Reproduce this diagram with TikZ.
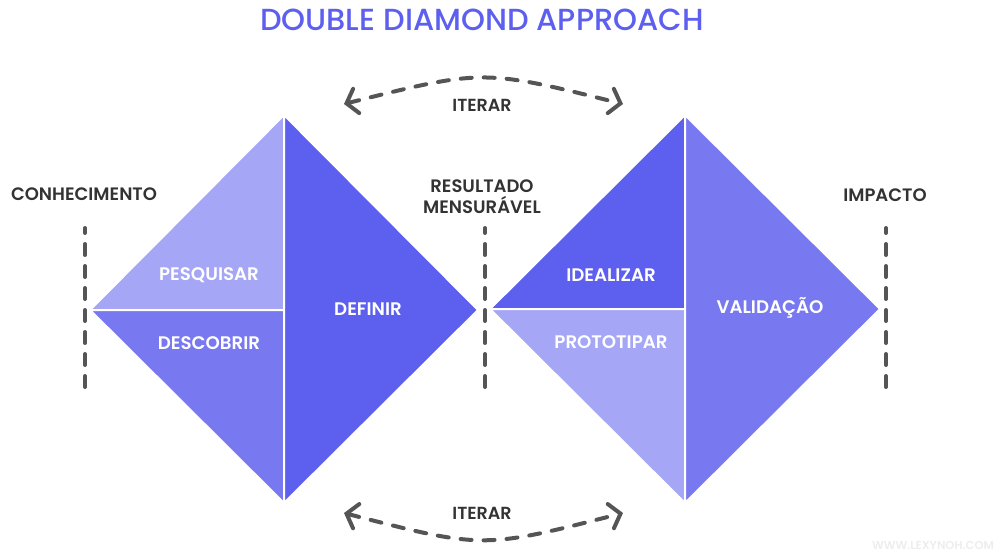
\documentclass[tikz,border=0pt]{standalone}
\usepackage{fontspec}
\setmainfont{Poppins}
\newfontfamily\semibold{Poppins SemiBold}
\newfontfamily\medium{Poppins Medium}
\usetikzlibrary{arrows.meta}
\definecolor{ddark}{HTML}{5D5FEF}
\definecolor{dmid}{HTML}{7879F1}
\definecolor{dlight}{HTML}{A5A6F6}
\definecolor{inkgray}{HTML}{333333}
\definecolor{dashgray}{HTML}{555555}
\tikzset{
  piece/.style={draw=white, line width=2pt, line join=miter},
  phase/.style={text=white, font=\fontsize{18.2}{19}\semibold},
  milestone/.style={text=inkgray, font=\fontsize{18}{21}\semibold, align=center},
  divider/.style={draw=dashgray, line width=4pt, line cap=round, dash pattern=on 11pt off 11pt, dash phase=6pt},
  iterarc/.style={draw=dashgray, line width=4pt, line cap=round, dash pattern=on 11pt off 12pt,
    {Straight Barb[length=10pt,width=25pt,line width=4pt,line cap=round]}-{Straight Barb[length=10pt,width=25pt,line width=4pt,line cap=round]}},
}
\begin{document}
\begin{tikzpicture}[x=1pt,y=-1pt]
\useasboundingbox (0,0) rectangle (1007,552);

% title
\node[text=ddark, font=\fontsize{30.5}{32}\medium] (title) at (482,20) {DOUBLE DIAMOND APPROACH};

% first diamond: discover / define
\fill[dlight, piece] (90,310) -- (284,115) -- (284,310) -- cycle;
\fill[dmid, piece] (90,310) -- (284,310) -- (284,503) -- cycle;
\fill[ddark, piece] (284,115) -- (478,310) -- (284,503) -- cycle;

% second diamond: develop / deliver
\fill[ddark, piece] (490,309) -- (685,115) -- (685,309) -- cycle;
\fill[dlight, piece] (490,309) -- (685,309) -- (685,503) -- cycle;
\fill[dmid, piece] (685,115) -- (880,309) -- (685,503) -- cycle;

% phase labels
\node[phase] (pesq) at (209,275) {PESQUISAR};
\node[phase] (desc) at (209,343) {DESCOBRIR};
\node[phase] (defi) at (368,309) {DEFINIR};
\node[phase] (idea) at (611,275) {IDEALIZAR};
\node[phase] (prot) at (611,342) {PROTOTIPAR};
\node[phase] (vali) at (770,308) {VALIDAÇÃO};

% milestones with dashed dividers
\node[milestone] (conh) at (84,194) {CONHECIMENTO};
\node[milestone] (resu) at (482,197) {RESULTADO\\MENSURÁVEL};
\node[milestone] (impa) at (885,195) {IMPACTO};

\coordinate (d1a) at (85,228);  \coordinate (d1b) at (85,392);
\coordinate (d2a) at (485,228); \coordinate (d2b) at (485,392);
\coordinate (d3a) at (886,228); \coordinate (d3b) at (886,392);
\draw[divider] (d1a) -- (d1b);
\draw[divider] (d2a) -- (d2b);
\draw[divider] (d3a) -- (d3b);

% iteration arcs
\coordinate (t1) at (344,104); \coordinate (t2) at (623,104);
\coordinate (b1) at (344,513); \coordinate (b2) at (623,513);
\draw[iterarc] (t1) .. controls (483,69) .. (t2);
\draw[iterarc] (b1) .. controls (483,549) .. (b2);
\node[text=inkgray, font=\fontsize{17.5}{18}\semibold] (it1) at (482,105) {ITERAR};
\node[text=inkgray, font=\fontsize{17.5}{18}\semibold] (it2) at (482,513) {ITERAR};

% site mark
\node[text=black!7, font=\fontsize{11.5}{13}\semibold, inner sep=1pt] (site) at (933,545) {WWW.LEXYNOH.COM};
\end{tikzpicture}
\end{document}
